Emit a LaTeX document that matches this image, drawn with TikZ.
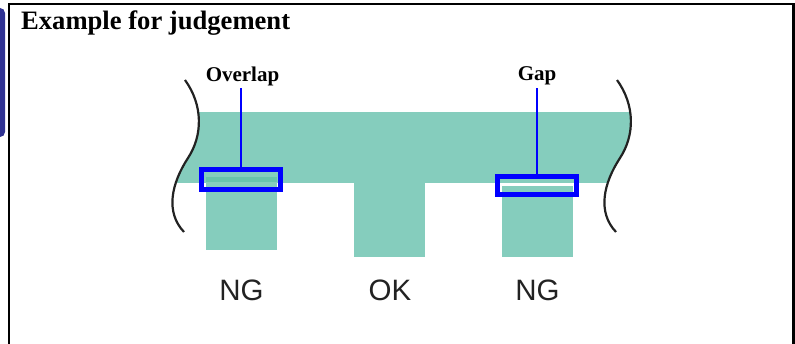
\documentclass[tikz,border=0pt]{standalone}
\usepackage{fontspec}
\setmainfont{Liberation Serif}
\setsansfont{Liberation Sans}
\definecolor{teal1}{HTML}{85CDBD}
\definecolor{teal2}{HTML}{68C3AC}
\definecolor{navy}{HTML}{2E3192}
\definecolor{ink}{HTML}{222222}
\begin{document}
\begin{tikzpicture}[x=1pt,y=-1pt,
  tooth/.style={fill=teal1},
  hl/.style={draw=blue, line width=5pt, inner sep=0pt, outer sep=0pt},
  lead/.style={draw=blue, line width=2pt},
  wave/.style={draw=ink, line width=2.2pt},
  lbl/.style={font=\bfseries\fontsize{21}{24}\selectfont, anchor=base, inner sep=2pt},
  verdict/.style={font=\sffamily\fontsize{29.5}{34}\selectfont, text=ink, anchor=base, inner sep=0pt}]
\useasboundingbox (0,0) rectangle (795,344);
% blue tab at left edge
\fill[navy, rounded corners=5pt] (-12,8) rectangle (5,137);
% frame
\draw[line width=2.2pt] (9,350) -- (9,4.3) -- (793.5,4.3) -- (793.5,350);
% title
\node[font=\bfseries\fontsize{26.6}{30}\selectfont, anchor=base west, inner sep=0pt] (title) at (21,29.3) {Example for judgement};
% band between the two wavy cuts
\begin{scope}
  \clip (0,113) rectangle (795,182.5);
  \fill[teal1] (185,80) .. controls (203,105) and (203,135) .. (188,158)
     .. controls (171.5,183.3) and (165,212) .. (184,232)
     -- (616,232) .. controls (597,212) and (603.5,183.3) .. (620,158)
     .. controls (635,135) and (635,105) .. (617,80) -- cycle;
\end{scope}
% teeth
\fill[tooth] (206,177) rectangle (277,250.5);
\fill[teal2] (206,177) rectangle (277,182.5);
\fill[tooth] (354,182) rectangle (425,257);
\fill[tooth] (502,186) rectangle (573,257);
% wavy break lines
\draw[wave] (185,80) .. controls (203,105) and (203,135) .. (188,158)
   .. controls (171.5,183.3) and (165,212) .. (184,232);
\draw[wave] (617,80) .. controls (635,105) and (635,135) .. (620,158)
   .. controls (603.5,183.3) and (597,212) .. (616,232);
% highlight boxes
\node[hl, minimum width=79pt, minimum height=19.5pt] (ovbox) at (240.5,179.75) {};
\node[hl, minimum width=79pt, minimum height=18pt] (gapbox) at (537,185.5) {};
% labels
\node[lbl] (ovl) at (242.5,81.5) {Overlap};
\node[lbl] (gapl) at (537,81) {Gap};
\draw[lead] (ovbox.north) -- (ovbox.north |- ovl.south);
\draw[lead] (gapbox.north) -- (gapbox.north |- gapl.south);
% verdicts
\node[verdict] (ng1) at (241.5,301) {NG};
\node[verdict] (ok) at (390,300.5) {OK};
\node[verdict] (ng2) at (537.5,301) {NG};
\end{tikzpicture}
\end{document}
